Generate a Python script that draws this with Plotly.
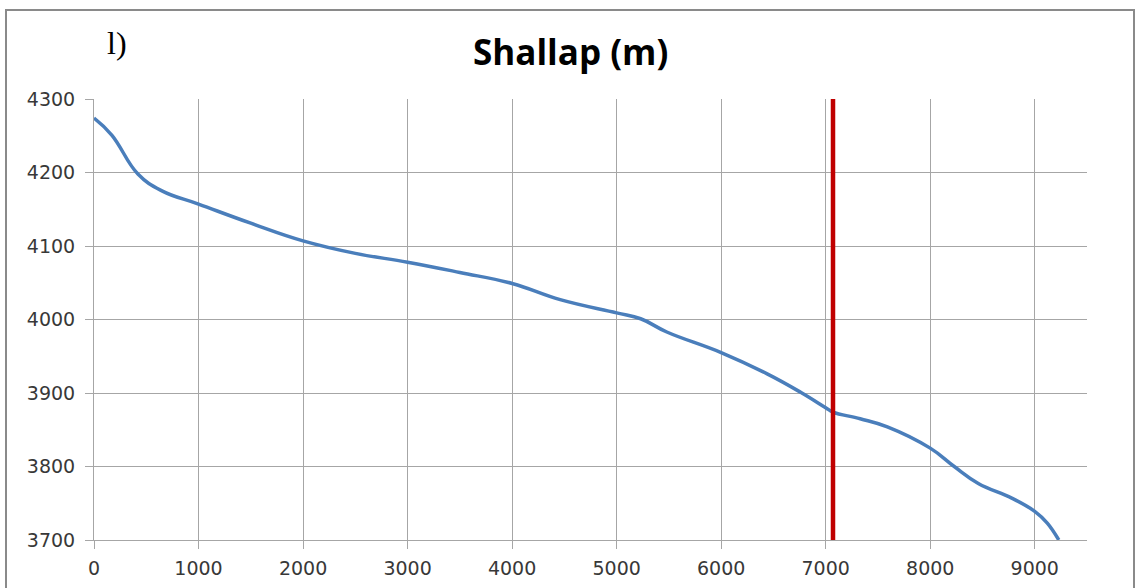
import plotly.graph_objects as go

# Distance (m) and elevation (m) along the Shallap profile
distance = [0, 170, 420, 650, 1000, 1500, 2000, 2500, 3000, 3500, 4000, 4460,
            5000, 5230, 5480, 6000, 6440, 6760, 7000, 7070, 7330, 7590, 8000,
            8230, 8460, 8780, 9000, 9120, 9230]
elevation = [4274, 4251, 4198, 4175, 4157, 4131, 4107, 4090, 4078, 4064, 4049,
             4027, 4009, 4001, 3983, 3955, 3926, 3901, 3880, 3874, 3865, 3854,
             3825, 3800, 3777, 3757, 3739, 3723, 3700]

marker_x = [7070, 7070]
marker_y = [3700, 4300]

x_ticks = [0, 1000, 2000, 3000, 4000, 5000, 6000, 7000, 8000, 9000]
y_ticks = [3700, 3800, 3900, 4000, 4100, 4200, 4300]

W, H = 1136, 588
ML, MR, MT, MB = 94, 49, 99, 48

fig = go.Figure()
fig.add_trace(go.Scatter(x=distance, y=elevation, mode="lines",
                         line=dict(color="#4a7ebb", width=3.5, shape="spline", smoothing=1.2),
                         showlegend=False, hoverinfo="skip"))
fig.add_trace(go.Scatter(x=marker_x, y=marker_y, mode="lines",
                         line=dict(color="#c00000", width=4.5),
                         showlegend=False, hoverinfo="skip"))

pw = W - ML - MR
ph = H - MT - MB
def px2paper_x(px):
    return (px - ML) / pw
def py2paper_y(py):
    return (H - MB - py) / ph

fig.add_shape(type="rect", xref="paper", yref="paper",
              x0=px2paper_x(6), x1=px2paper_x(1134),
              y0=py2paper_y(600), y1=py2paper_y(10),
              line=dict(color="#8a8a8a", width=2), layer="below")

fig.add_annotation(text="Shallap (m)", xref="paper", yref="paper",
                   x=px2paper_x(570), y=py2paper_y(51), xanchor="center", yanchor="middle",
                   showarrow=False, font=dict(family="Open Sans", size=35, color="#000000",
                                              weight="bold"))
fig.add_annotation(text="l)", xref="paper", yref="paper",
                   x=px2paper_x(117), y=py2paper_y(43), xanchor="center", yanchor="middle",
                   showarrow=False, font=dict(family="Liberation Serif", size=32, color="#000000"))

axis_common = dict(showgrid=True, gridcolor="#a6a6a6", gridwidth=1,
                   showline=True, linecolor="#a6a6a6", linewidth=1,
                   ticks="outside", ticklen=8, tickcolor="#a6a6a6",
                   tickfont=dict(family="DejaVu Sans", size=19, color="#383838"),
                   zeroline=False, fixedrange=True, automargin=False)

fig.update_xaxes(range=[0, 9500], tickvals=x_ticks, ticktext=[str(v) for v in x_ticks],
                 ticklabelstandoff=3, **axis_common)
fig.update_yaxes(range=[3700, 4300], tickvals=y_ticks, ticktext=[str(v) for v in y_ticks],
                 ticklabelstandoff=6, **axis_common)

fig.update_layout(width=W, height=H, margin=dict(l=ML, r=MR, t=MT, b=MB, pad=0),
                  paper_bgcolor="white", plot_bgcolor="white")

fig.write_html("out.html", config={"displayModeBar": False},
               post_script="document.body.style.margin='0';")
